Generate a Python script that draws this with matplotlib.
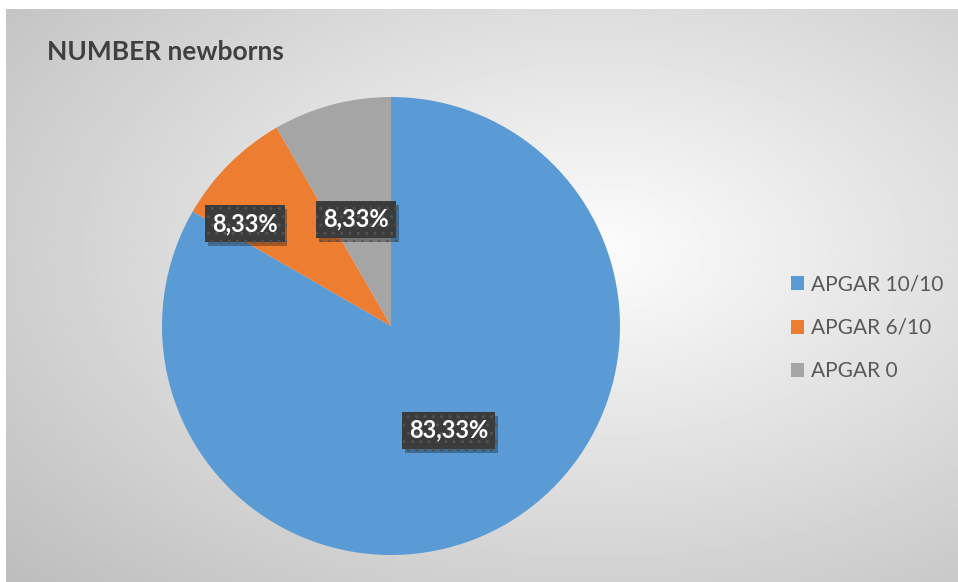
import matplotlib.pyplot as plt
import matplotlib.patheffects as pe
import numpy as np

# data
labels = ['APGAR 10/10', 'APGAR 6/10', 'APGAR 0']
values = [83.33, 8.33, 8.33]
pct_text = ['83,33%', '8,33%', '8,33%']
colors = ['#5B9BD5', '#ED7D31', '#A5A5A5']
title = 'NUMBER newborns'

plt.rcParams['font.family'] = ['Lato', 'DejaVu Sans']

W, H = 958, 582
fig = plt.figure(figsize=(W / 100, H / 100), dpi=100)
fig.patch.set_facecolor('white')

# background gradient (chart area)
bg = fig.add_axes([6 / W, 0, 1 - 6 / W, (H - 9) / H])
bg.set_axis_off()
yy, xx = np.mgrid[0:1:300j, 0:1:500j]
d = np.sqrt(((xx - 0.62) / 0.75) ** 2 + ((yy - 0.42) / 0.75) ** 2)
shade = np.clip(0.99 - 0.22 * d, 0.74, 0.99)
bg.imshow(shade, cmap='gray', vmin=0, vmax=1, aspect='auto',
          extent=[0, 1, 1, 0], interpolation='bilinear')
bg.set_xlim(0, 1)
bg.set_ylim(1, 0)

# pie
cx, cy, r = 391, 326, 229
ax = fig.add_axes([(cx - r) / W, (H - cy - r) / H, 2 * r / W, 2 * r / H])
wedges, _ = ax.pie(values, colors=colors, startangle=90, counterclock=False,
                   radius=1.0, wedgeprops=dict(linewidth=0))
ax.set_xlim(-1, 1)
ax.set_ylim(-1, 1)
ax.set_aspect('auto')
ax.set_axis_off()

# data labels: distance from centre and angle shift per slice
label_r = [0.52, 0.78, 0.49]
label_shift = [-1, 10, 3]
for w, txt, lr, sh in zip(wedges, pct_text, label_r, label_shift):
    ang = np.deg2rad((w.theta1 + w.theta2) / 2 + sh)
    x, y = lr * np.cos(ang), lr * np.sin(ang)
    t = ax.text(x, y, txt, ha='center', va='center', fontsize=17,
                fontweight='bold', color='white',
                bbox=dict(boxstyle='square,pad=0.3', facecolor='#3b3b3b',
                          edgecolor='#525252', hatch='..', linewidth=0))
    t.get_bbox_patch().set_path_effects([
        pe.SimplePatchShadow(offset=(2, -3), shadow_rgbFace='black', alpha=0.3),
        pe.Normal()])

fig.text(47 / W, 1 - 52 / H, title, fontsize=19, fontweight='bold',
         color='#404040', ha='left', va='center')

leg = fig.legend(wedges, labels, loc='center left',
                 bbox_to_anchor=(772 / W, 1 - 328 / H), frameon=False,
                 fontsize=15, labelcolor='#595959', handlelength=0.65,
                 handleheight=0.65, handletextpad=0.3, labelspacing=1.12)

fig.savefig('out.png', dpi=100)
